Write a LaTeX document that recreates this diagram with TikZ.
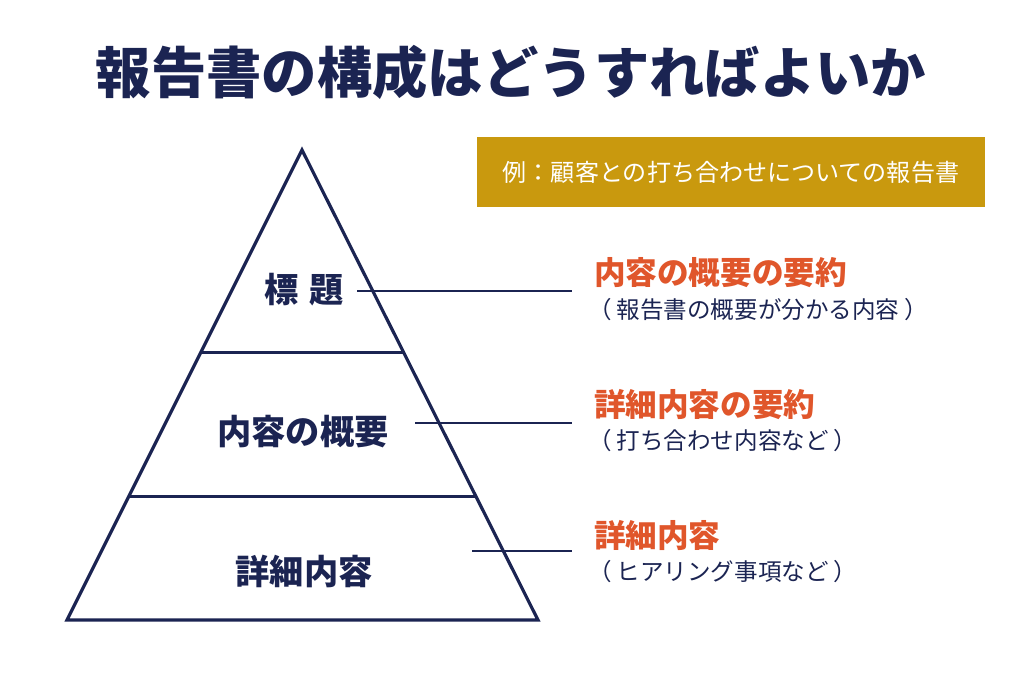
\documentclass[tikz,border=0pt]{standalone}
\usepackage{fontspec}
\setmainfont{Noto Sans CJK JP}
\usepackage{tikz}
\usetikzlibrary{calc, positioning}
\definecolor{navy}{HTML}{1B2452}
\definecolor{gold}{HTML}{C9990E}
\definecolor{accent}{HTML}{E0562B}

\begin{document}
\begin{tikzpicture}[x=0.02cm, y=-0.02cm,
	every node/.style={inner sep=0, outer sep=0},
	level_label/.style = {font=\fontsize{19.5}{22}\selectfont\bfseries, text=navy},
	head_label/.style = {font=\fontsize{18}{20}\selectfont\bfseries, text=accent, anchor=west},
	sub_label/.style = {font=\fontsize{13.4}{15}\selectfont, text=navy, anchor=west},
	pyr_line/.style = {draw=navy, line width=1.8pt, line join=miter},
	link_line/.style = {draw=navy, line width=0.8pt}
]
	\useasboundingbox (0,0) rectangle (1020,680);

	\node [font=\fontsize{31.5}{34}\selectfont\bfseries, text=navy] (Title) at (511,72) {報告書の構成はどうすればよいか};

	\node [fill=gold, minimum width=508*0.02cm, minimum height=70*0.02cm,
		font=\fontsize{13.7}{15}\selectfont, text=white] (Example) at (731,172) {例：顧客との打ち合わせについての報告書};

	% pyramid
	\coordinate (Top) at (302,150);
	\coordinate (BotL) at (67,620);
	\coordinate (BotR) at (538,620);
	\draw [pyr_line] (Top) -- (BotL) -- (BotR) -- cycle;
	\draw [pyr_line] ($(Top)!0.43!(BotL)$) -- ($(Top)!0.43!(BotR)$);
	\draw [pyr_line] ($(Top)!0.738!(BotL)$) -- ($(Top)!0.738!(BotR)$);

	\node [level_label] (Level0) at (304,290) {標\hspace{0.3em}題};
	\node [level_label] (Level1) at (303,432) {内容の概要};
	\node [level_label] (Level2) at (304,571) {詳細内容};

	\coordinate (Link0) at (357,291);
	\coordinate (Link1) at (415,423);
	\coordinate (Link2) at (472,551);
	\coordinate (End0) at (572,291);
	\coordinate (End1) at (572,423);
	\coordinate (End2) at (572,551);

	\node [head_label] (Head0) at (594,273) {内容の概要の要約};
	\node [sub_label] (Sub0) at (588,310) {（ 報告書の概要が分かる内容 ）};
	\node [head_label] (Head1) at (594,405) {詳細内容の要約};
	\node [sub_label] (Sub1) at (588,441) {（ 打ち合わせ内容など ）};
	\node [head_label] (Head2) at (594,535) {詳細内容};
	\node [sub_label] (Sub2) at (588,572) {（ ヒアリング事項など ）};

	\draw [link_line] (Link0) -- (End0);
	\draw [link_line] (Link1) -- (End1);
	\draw [link_line] (Link2) -- (End2);
\end{tikzpicture}
\end{document}
